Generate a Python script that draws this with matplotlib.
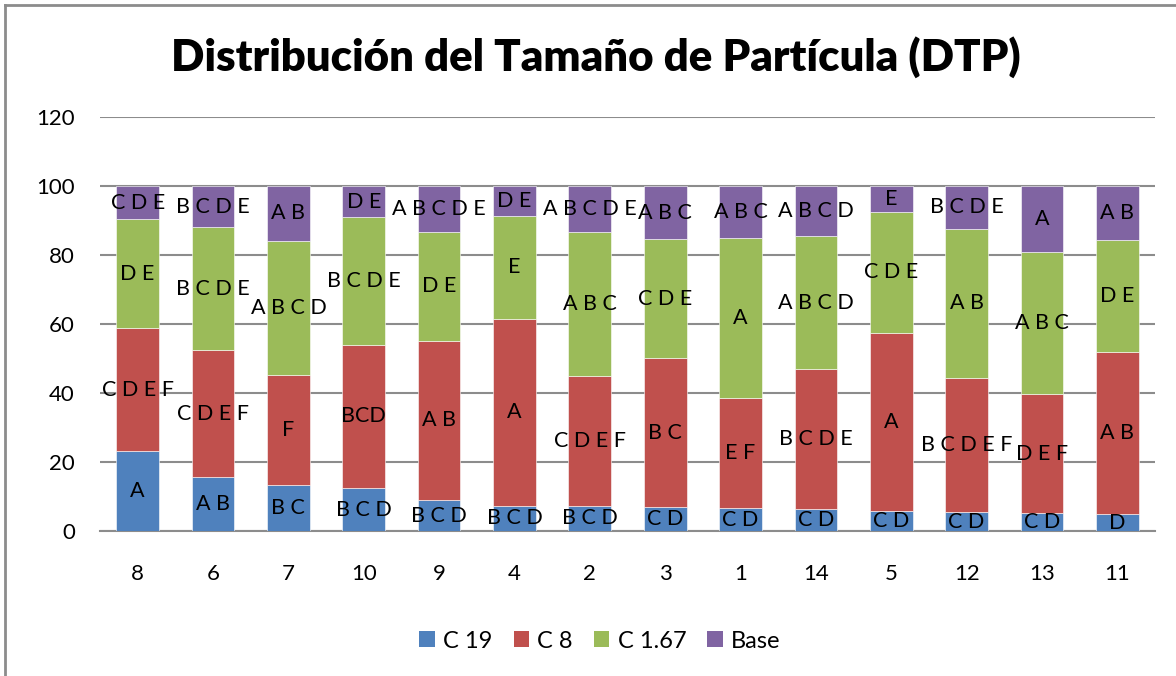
import matplotlib
matplotlib.use("Agg")
import matplotlib.pyplot as plt
from matplotlib.patches import Patch
from matplotlib.lines import Line2D
import numpy as np

plt.rcParams['font.family'] = ['Lato', 'DejaVu Sans']

categories = ["8", "6", "7", "10", "9", "4", "2", "3", "1", "14", "5", "12", "13", "11"]
series_names = ["C 19", "C 8", "C 1.67", "Base"]
# cumulative tops
c19 = [23.2, 15.6, 13.3, 12.4, 8.9, 7.3, 7.3, 6.9, 6.6, 6.4, 5.8, 5.5, 5.1, 4.9]
c8_top = [58.8, 52.5, 45.3, 54.0, 55.2, 61.4, 44.9, 50.1, 38.5, 46.9, 57.5, 44.4, 39.8, 52.0]
c167_top = [90.4, 88.0, 84.1, 91.0, 86.8, 91.4, 86.7, 84.6, 84.8, 85.5, 92.5, 87.6, 80.9, 84.3]
base_top = [100] * 14

c8 = [t - b for t, b in zip(c8_top, c19)]
c167 = [t - b for t, b in zip(c167_top, c8_top)]
base = [t - b for t, b in zip(base_top, c167_top)]

lab_c19 = ["A", "A B", "B C", "B C D", "B C D", "B C D", "B C D", "C D", "C D", "C D", "C D", "C D", "C D", "D"]
lab_c8 = ["C D E F", "C D E F", "F", "BCD", "A B", "A", "C D E F", "B C", "E F", "B C D E", "A", "B C D E F", "D E F", "A B"]
lab_c167 = ["D E", "B C D E", "A B C D", "B C D E", "D E", "E", "A B C", "C D E", "A", "A B C D", "C D E", "A B", "A B C", "D E"]
lab_base = ["C D E", "B C D E", "A B", "D E", "A B C D E", "D E", "A B C D E", "A B C", "A B C", "A B C D", "E", "B C D E", "A", "A B"]

colors = ["#4F81BD", "#C0504D", "#9BBB59", "#8064A2"]

W, H = 1176, 676
fig = plt.figure(figsize=(W / 100, H / 100), dpi=100)
ax = fig.add_axes([100 / W, (H - 531) / H, 1055 / W, 414 / H])

x = np.arange(len(categories))
width = 0.566
series = [c19, c8, c167, base]
labels = [lab_c19, lab_c8, lab_c167, lab_base]
bottom = np.zeros(len(categories))
for vals, labs, col, name in zip(series, labels, colors, series_names):
    vals = np.array(vals)
    ax.bar(x, vals, width, bottom=bottom, color=col, edgecolor='white', linewidth=0.4, zorder=3, label=name)
    for xi, v, b, lab in zip(x, vals, bottom, labs):
        ax.text(xi, b + v / 2, lab, ha='center', va='center', fontsize=15.5, color='black', zorder=5, clip_on=False)
    bottom = bottom + vals

ax.set_xlim(-0.5, len(categories) - 0.5)
ax.set_ylim(0, 120)
ax.set_yticks(np.arange(0, 121, 20))
ax.set_xticks(x)
ax.set_xticklabels(categories)
ax.yaxis.grid(True, color='#8c8c8c', linewidth=1.5, zorder=0)
ax.set_axisbelow(True)
for s in ['top', 'right', 'left']:
    ax.spines[s].set_visible(False)
ax.spines['bottom'].set_color('#8c8c8c')
ax.spines['bottom'].set_linewidth(1.5)
ax.tick_params(axis='both', length=0, labelsize=16)
ax.tick_params(axis='x', pad=24)
ax.tick_params(axis='y', pad=18)

fig.text(596 / W, 1 - 57 / H, "Distribución del Tamaño de Partícula (DTP)", ha='center', va='center',
         fontsize=31.5, fontweight='heavy')

handles = [Patch(facecolor=c, edgecolor='none') for c in colors]
fig.legend(handles, series_names, loc='center', bbox_to_anchor=(600 / W, 1 - 641 / H), ncol=4,
           frameon=False, fontsize=17, handlelength=0.65, handleheight=0.65, handletextpad=0.35,
           columnspacing=0.9)

fig.add_artist(Line2D([5 / W, 1], [1 - 5 / H, 1 - 5 / H], transform=fig.transFigure, color='#8c8c8c', lw=2))
fig.add_artist(Line2D([5 / W, 5 / W], [0, 1 - 5 / H], transform=fig.transFigure, color='#8c8c8c', lw=2))

fig.savefig("out.png", dpi=100, facecolor='white')
